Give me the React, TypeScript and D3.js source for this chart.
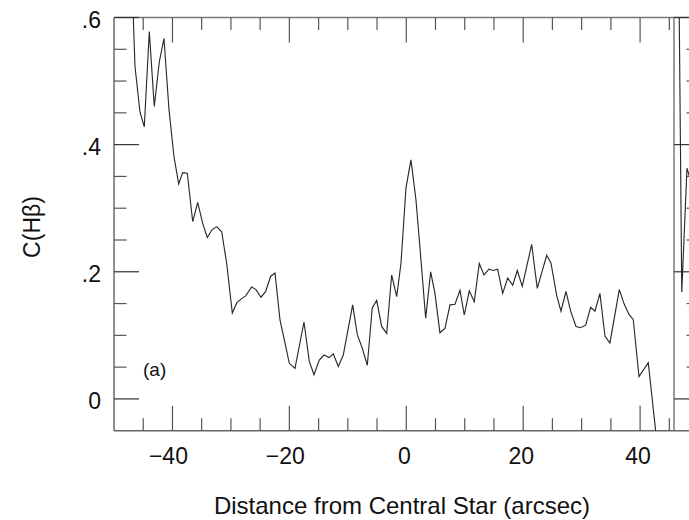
import React from "react";
import * as d3 from "d3";

// Panel (a): extinction coefficient along the slit
const distance = [
  -47.26, -46.41, -45.55, -44.82, -43.96, -43.11, -42.25, -41.45, -40.59, -39.74,
  -38.93, -38.25, -37.46, -36.54, -35.68, -34.83, -34.04, -33.24, -32.43, -31.58,
  -30.72, -29.76, -29.01, -28.28, -27.47, -26.45, -25.71, -24.85, -24.05, -23.2,
  -22.46, -21.6, -20.75, -20.01, -19.04, -17.5, -16.59, -15.79, -14.88, -14.08,
  -13.22, -12.49, -11.63, -10.78, -9.17, -8.38, -7.53, -6.67, -5.82, -5.06,
  -4.21, -3.35, -2.5, -1.64, -0.91, -0.05, 0.8, 1.66, 2.51, 3.32,
  4.17, 4.91, 5.76, 6.62, 7.48, 8.33, 9.19, 9.92, 10.78, 11.63,
  12.49, 13.29, 14.15, 14.88, 15.63, 16.49, 17.35, 18.2, 18.99, 19.84,
  21.45, 22.41, 24.02, 24.75, 25.73, 26.46, 27.32, 28.12, 29.03, 29.83,
  30.69, 31.54, 32.28, 33.13, 33.99, 34.84, 36.44, 37.24, 38.09, 38.83,
  39.81, 41.4, 43.06,
];
const chb = [
  0.75, 0.523, 0.451, 0.428, 0.578, 0.46, 0.53, 0.567, 0.455, 0.381,
  0.338, 0.356, 0.355, 0.279, 0.309, 0.276, 0.254, 0.266, 0.271, 0.263,
  0.213, 0.135, 0.151, 0.157, 0.162, 0.176, 0.172, 0.16, 0.169, 0.193,
  0.198, 0.124, 0.088, 0.056, 0.048, 0.121, 0.059, 0.038, 0.061, 0.069,
  0.065, 0.071, 0.051, 0.069, 0.148, 0.101, 0.08, 0.053, 0.143, 0.155,
  0.114, 0.103, 0.195, 0.161, 0.213, 0.332, 0.376, 0.313, 0.219, 0.127,
  0.2, 0.166, 0.104, 0.111, 0.148, 0.149, 0.171, 0.132, 0.17, 0.153,
  0.213, 0.195, 0.204, 0.202, 0.204, 0.166, 0.19, 0.179, 0.202, 0.177,
  0.243, 0.174, 0.226, 0.214, 0.163, 0.138, 0.169, 0.138, 0.114, 0.112,
  0.116, 0.144, 0.138, 0.166, 0.099, 0.088, 0.172, 0.15, 0.133, 0.125,
  0.035, 0.057, -0.084,
];

// Start of panel (b), which continues past the right edge
const distanceB = [-49.25, -48.67, -47.78, -46.92];
const chbB = [0.75, 0.168, 0.363, 0.336];

const xMajor = [-40, -20, 0, 20, 40];
const xMinor = [-45, -35, -30, -25, -15, -10, -5, 5, 10, 15, 25, 30, 35, 45];
const yMajor = [0, 0.2, 0.4, 0.6];
const yMinor = [0.05, 0.1, 0.15, 0.25, 0.3, 0.35, 0.45, 0.5, 0.55];
const xTickLabels = ["\u221240", "\u221220", "0", "20", "40"];
const yTickLabels = ["0", ".2", ".4", ".6"];

const W = 689;
const H = 520;
const left = 114;
const right = 674;
const top = 17.5;
const bottom = 430.7;
const FONT = "'Liberation Sans', Arial, Helvetica, sans-serif";

export default function App() {
  const x = d3.scaleLinear().domain([-50, 45.8]).range([left, right]);
  const xB = d3.scaleLinear().domain([-50, 45.8]).range([right, right + (right - left)]);
  const y = d3.scaleLinear().domain([-0.05, 0.6]).range([bottom, top]);

  const lineA = d3
    .line<number>()
    .x((_, i) => x(distance[i]))
    .y((d) => y(d));
  const lineB = d3
    .line<number>()
    .x((_, i) => xB(distanceB[i]))
    .y((d) => y(d));

  const axisStroke = "#555";
  const majorLen = 25;
  const minorLen = 12.5;

  return (
    <svg
      width={W}
      height={H}
      style={{ position: "absolute", left: 0, top: 0, background: "#fff" }}
      fontFamily={FONT}
    >
      <defs>
        <clipPath id="clipA">
          <rect x={left} y={top} width={right - left} height={bottom - top} />
        </clipPath>
        <clipPath id="clipB">
          <rect x={right} y={top} width={W - right} height={bottom - top} />
        </clipPath>
      </defs>

      {/* frame */}
      <line x1={left} x2={W} y1={top} y2={top} stroke="#777" strokeWidth={1.4} />
      <line x1={left} x2={W} y1={bottom} y2={bottom} stroke="#666" strokeWidth={1.4} />
      <line x1={left} x2={left} y1={top} y2={bottom} stroke="#555" strokeWidth={1.3} />
      <line x1={right} x2={right} y1={top} y2={bottom} stroke="#666" strokeWidth={1.3} />

      {/* x ticks, bottom and top */}
      {xMajor.map((v) => (
        <g key={"xM" + v} stroke={axisStroke} strokeWidth={1.2}>
          <line x1={x(v)} x2={x(v)} y1={bottom} y2={bottom - majorLen} />
          <line x1={x(v)} x2={x(v)} y1={top} y2={top + majorLen} />
        </g>
      ))}
      {xMinor.map((v) => (
        <g key={"xm" + v} stroke={axisStroke} strokeWidth={1.2}>
          <line x1={x(v)} x2={x(v)} y1={bottom} y2={bottom - minorLen} />
          <line x1={x(v)} x2={x(v)} y1={top} y2={top + minorLen} />
        </g>
      ))}

      {/* y ticks of panel (a) */}
      {yMajor.map((v) => (
        <line key={"yM" + v} x1={left} x2={left + majorLen} y1={y(v)} y2={y(v)} stroke="#333" strokeWidth={1.2} />
      ))}
      {yMinor.map((v) => (
        <line key={"ym" + v} x1={left} x2={left + minorLen} y1={y(v)} y2={y(v)} stroke={axisStroke} strokeWidth={1.2} />
      ))}

      {/* y ticks of panel (b) */}
      {yMajor.map((v) => (
        <line key={"bM" + v} x1={right} x2={right + majorLen} y1={y(v)} y2={y(v)} stroke="#333" strokeWidth={1.2} />
      ))}
      {yMinor.map((v) => (
        <line key={"bm" + v} x1={right + minorLen} x2={right + majorLen} y1={y(v)} y2={y(v)} stroke={axisStroke} strokeWidth={1.2} />
      ))}

      {/* tick labels */}
      {xMajor.map((v, i) => (
        <text
          key={"xl" + v}
          x={x(v) - (v < 0 ? 4 : 2)}
          y={464}
          textAnchor="middle"
          fontSize={23}
          fill="#111"
        >
          {xTickLabels[i]}
        </text>
      ))}
      {yMajor.map((v, i) => (
        <text
          key={"yl" + v}
          x={101}
          y={y(v) + 2}
          textAnchor="end"
          dominantBaseline="central"
          fontSize={23}
          fill="#111"
        >
          {yTickLabels[i]}
        </text>
      ))}

      {/* axis titles */}
      <text x={402} y={514} textAnchor="middle" fontSize={24} fill="#111">
        Distance from Central Star (arcsec)
      </text>
      <text
        transform={`translate(32, 227) rotate(-90)`}
        textAnchor="middle"
        dominantBaseline="central"
        fontSize={23}
        fill="#111"
      >
        C(Hβ)
      </text>

      {/* panel label */}
      <text x={143} y={376} fontSize={19} fill="#111">
        (a)
      </text>

      {/* data */}
      <path d={lineA(chb) ?? ""} fill="none" stroke="#2a2a2a" strokeWidth={1.15} clipPath="url(#clipA)" />
      <path d={lineB(chbB) ?? ""} fill="none" stroke="#2a2a2a" strokeWidth={1.15} clipPath="url(#clipB)" />
    </svg>
  );
}
